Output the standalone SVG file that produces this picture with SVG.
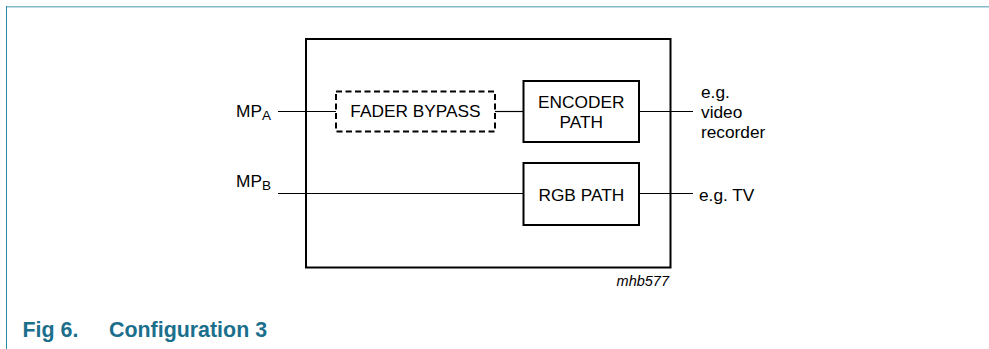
<svg xmlns="http://www.w3.org/2000/svg" width="989" height="349" viewBox="0 0 989 349">
<style>
  .t { font-family: "Liberation Sans", Arial, sans-serif; font-size: 17.3px; fill: #000; }
  .box { fill: none; stroke: #000; stroke-width: 2; }
  .dash { fill: none; stroke: #000; stroke-width: 2; stroke-dasharray: 6 3.5; }
  .wire { fill: none; stroke: #000; stroke-width: 1.2; }
  .cap { font-family: "Liberation Sans", Arial, sans-serif; font-size: 21.4px; font-weight: bold; fill: #1b6f8c; }
</style>
<rect width="989" height="349" fill="#fff"/>
<g id="frame">
  <line x1="6" y1="6.8" x2="989" y2="6.8" stroke="#80bccb" stroke-width="1.6"/>
  <line x1="6.5" y1="6" x2="6.5" y2="349" stroke="#2a8aa5" stroke-width="1"/>
</g>
<g id="connectors">
  <line class="wire" x1="278" y1="111.5" x2="336" y2="111.5"/>
  <line class="wire" x1="495" y1="111.5" x2="523" y2="111.5"/>
  <line class="wire" x1="639" y1="111.5" x2="693" y2="111.5"/>
  <line class="wire" x1="278" y1="193.5" x2="523" y2="193.5"/>
  <line class="wire" x1="639" y1="193.5" x2="693" y2="193.5"/>
</g>
<g id="outer">
  <rect class="box" x="306" y="39" width="364.5" height="228.5"/>
</g>
<g id="fader">
  <rect class="dash" x="336" y="91.5" width="159" height="40"/>
  <text class="t" x="415.5" y="116.5" text-anchor="middle">FADER BYPASS</text>
</g>
<g id="encoder">
  <rect class="box" x="523.5" y="81" width="115.5" height="61"/>
  <text class="t" x="581.3" y="107.5" text-anchor="middle">ENCODER</text>
  <text class="t" x="581.3" y="127.5" text-anchor="middle">PATH</text>
</g>
<g id="rgb">
  <rect class="box" x="523.5" y="163" width="115.5" height="62"/>
  <text class="t" x="581.3" y="201" text-anchor="middle">RGB PATH</text>
</g>
<g id="mpa">
  <text class="t" x="236" y="116.5">MP<tspan font-size="13.5" dy="3">A</tspan></text>
</g>
<g id="mpb">
  <text class="t" x="236" y="186.5">MP<tspan font-size="13.5" dy="3.5">B</tspan></text>
</g>
<g id="out-video">
  <text class="t" x="701" y="97.5">e.g.</text>
  <text class="t" x="701" y="117.5">video</text>
  <text class="t" x="701" y="137.5">recorder</text>
</g>
<g id="out-tv">
  <text class="t" x="699" y="201">e.g. TV</text>
</g>
<text x="669" y="286" text-anchor="end" font-family="Liberation Sans, Arial, sans-serif" font-size="14.5" font-style="italic">mhb577</text>
<text class="cap" x="22.5" y="336.5">Fig 6.</text>
<text class="cap" x="109" y="336.5">Configuration 3</text>
</svg>
